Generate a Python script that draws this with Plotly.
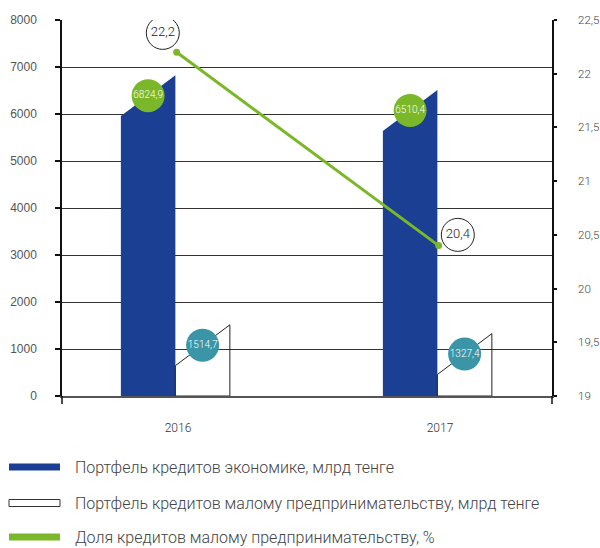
import plotly.graph_objects as go

# ---- data ----
years = ["2016", "2017"]
economy_loans = [6824.9, 6510.4]          # млрд тенге
small_business_loans = [1514.7, 1327.4]   # млрд тенге
small_business_share = [22.2, 20.4]       # %
left_ticks = [0, 1000, 2000, 3000, 4000, 5000, 6000, 7000, 8000]
right_ticks = [19, 19.5, 20, 20.5, 21, 21.5, 22, 22.5]
right_tick_labels = ["19", "19,5", "20", "20,5", "21", "21,5", "22", "22,5"]
series_names = [
    "Портфель кредитов экономике, млрд тенге",
    "Портфель кредитов малому предпринимательству, млрд тенге",
    "Доля кредитов малому предпринимательству, %",
]

# ---- style ----
BLUE = "#1B3F93"
GREEN = "#7AB829"
TEAL = "#3A95A6"
BAR_W = 0.208
GAP = 0.01
SLANT = 870            # visual slant of the bar tops (y units)
LINE_LABEL_DX = [-0.053, 0.073]
LINE_LABEL_DY = [0.18, 0.10]
FONT = "Roboto"


def fmt(v):
    return f"{v:.1f}".replace(".", ",")


fig = go.Figure()
pos = list(range(len(years)))

# blue slanted bars
for i, v in enumerate(economy_loans):
    x0, x1 = pos[i] - GAP - BAR_W, pos[i] - GAP
    fig.add_trace(go.Scatter(
        x=[x0, x0, x1, x1, x0], y=[0, v - SLANT, v, 0, 0],
        mode="lines", fill="toself", fillcolor=BLUE,
        line=dict(width=0, color=BLUE), hoverinfo="skip",
        name=series_names[0], showlegend=False))

# white outlined slanted bars
for i, v in enumerate(small_business_loans):
    x0, x1 = pos[i] - GAP, pos[i] - GAP + BAR_W
    fig.add_trace(go.Scatter(
        x=[x0, x0, x1, x1, x0], y=[0, v - SLANT, v, 0, 0],
        mode="lines", line=dict(width=1, color="#222"), hoverinfo="skip",
        name=series_names[1], showlegend=False))

# value circles on bars
fig.add_trace(go.Scatter(
    x=[p - GAP - BAR_W / 2 for p in pos],
    y=[v - SLANT / 2 for v in economy_loans],
    mode="markers+text", text=[fmt(v) for v in economy_loans],
    textposition="middle center",
    textfont=dict(family=FONT, size=10, color="white", weight=300),
    marker=dict(size=33, color=GREEN, line=dict(width=0)),
    hoverinfo="skip", showlegend=False))
fig.add_trace(go.Scatter(
    x=[p - GAP + BAR_W / 2 for p in pos],
    y=[v - SLANT / 2 for v in small_business_loans],
    mode="markers+text", text=[fmt(v) for v in small_business_loans],
    textposition="middle center",
    textfont=dict(family=FONT, size=10, color="white", weight=300),
    marker=dict(size=33, color=TEAL, line=dict(width=0)),
    hoverinfo="skip", showlegend=False))

# share line (right axis)
line_x = [p - GAP / 2 for p in pos]
fig.add_trace(go.Scatter(
    x=line_x, y=small_business_share, yaxis="y2",
    mode="lines+markers", line=dict(color=GREEN, width=3),
    marker=dict(size=7, color=GREEN),
    name=series_names[2], showlegend=False, hoverinfo="skip"))
fig.add_trace(go.Scatter(
    x=[x + d for x, d in zip(line_x, LINE_LABEL_DX)],
    y=[s + d for s, d in zip(small_business_share, LINE_LABEL_DY)],
    yaxis="y2", mode="markers+text",
    text=[fmt(s) for s in small_business_share],
    textposition="middle center",
    textfont=dict(family=FONT, size=13, color="#222", weight=300),
    marker=dict(size=33, color="white", line=dict(width=1, color="#222")),
    hoverinfo="skip", showlegend=False))

# ---- manual legend ----
plot_h = 548 - 20 - 152
plot_w = 600 - 62 - 48


def py(pix):
    return (396 - pix) / plot_h


def px(pix):
    return (pix - 62) / plot_w


legend_rows = [467, 503, 537]
legend_styles = [
    dict(fillcolor=BLUE, line=dict(width=0)),
    dict(fillcolor="white", line=dict(width=1, color="#333")),
    dict(fillcolor=GREEN, line=dict(width=0)),
]
shapes = []
annotations = []
for row, st, name in zip(legend_rows, legend_styles, series_names):
    shapes.append(dict(type="rect", xref="paper", yref="paper",
                       x0=px(9), x1=px(60), y0=py(row + 3.5), y1=py(row - 3.5),
                       layer="above", **st))
    annotations.append(dict(x=px(74), y=py(row), xref="paper", yref="paper",
                            xanchor="left", yanchor="middle", showarrow=False,
                            text=name, borderpad=0,
                            font=dict(family=FONT, size=16, color="#444", weight=300)))

# axis extensions below the baseline
for xe in [0, 1]:
    shapes.append(dict(type="line", xref="paper", yref="paper",
                       x0=xe, x1=xe, y0=0, y1=py(404),
                       line=dict(color="#111", width=1.5)))

fig.update_layout(
    width=600, height=548,
    margin=dict(l=62, r=48, t=20, b=152),
    plot_bgcolor="white", paper_bgcolor="white",
    showlegend=False,
    shapes=shapes, annotations=annotations,
    xaxis=dict(range=[-0.4427, 1.4275], tickvals=pos, ticktext=years,
               showgrid=False, zeroline=False, showline=True,
               linecolor="#555", linewidth=2, ticks="",
               ticklabelstandoff=20, automargin=False,
               tickfont=dict(family=FONT, size=12, color="#333", weight=300)),
    yaxis=dict(range=[0, 8000], tickvals=left_ticks,
               ticktext=[str(t) for t in left_ticks],
               showgrid=True, gridcolor="#333", gridwidth=1,
               zeroline=False, showline=True, linecolor="#111", linewidth=1.5,
               ticks="outside", ticklen=5, tickcolor="#111", tickwidth=1.5,
               ticklabelstandoff=16, automargin=False,
               tickfont=dict(family="Liberation Sans", size=12, color="#555")),
    yaxis2=dict(range=[19, 22.5], overlaying="y", side="right",
                tickvals=right_ticks, ticktext=right_tick_labels,
                showgrid=False, zeroline=False, showline=True,
                linecolor="#111", linewidth=1.5,
                ticks="outside", ticklen=3, tickcolor="#111", tickwidth=1.5,
                ticklabelstandoff=19, automargin=False,
                tickfont=dict(family=FONT, size=11.5, color="#444", weight=300)),
)

fig.write_html("out.html",
               config={"displayModeBar": False},
               post_script="document.body.style.margin='0px';"
                           "document.body.style.overflow='hidden';")
